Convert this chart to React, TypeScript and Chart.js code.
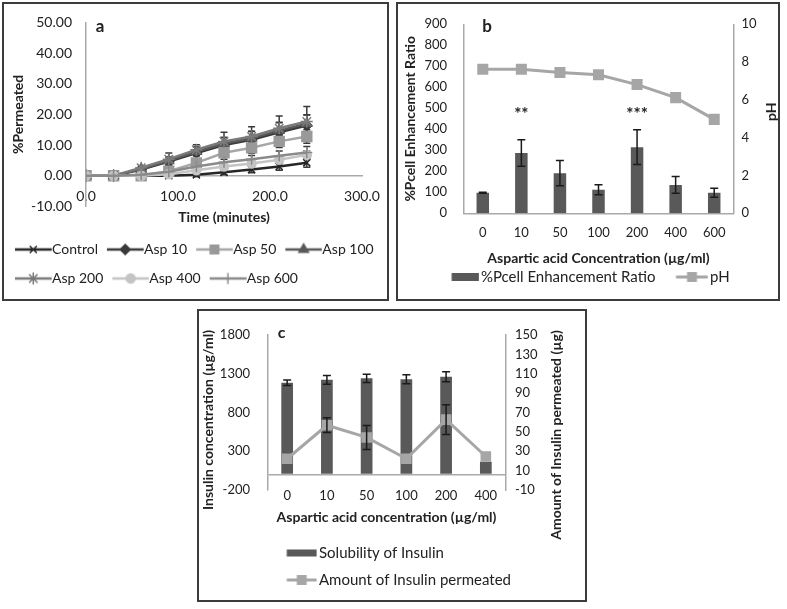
import React, { useEffect, useRef } from 'react';
import { Chart, registerables } from 'chart.js';
import { drawPoint } from 'chart.js/helpers';

Chart.register(...registerables);

const FONT = 'Lato, "Open Sans", sans-serif';
const TXT = '#222222';
const AXIS = '#a9a9a9';

// ---------- Panel a data ----------
const timeMin = [0, 30, 60, 90, 120, 150, 180, 210, 240];
const seriesNames = ['Control', 'Asp 10', 'Asp 50', 'Asp 100', 'Asp 200', 'Asp 400', 'Asp 600'];
const control = [0, 0, 0, 0, 0.3, 1.1, 2.0, 3.0, 4.2];
const asp10 = [0, 0, 2.0, 4.6, 7.4, 10.0, 11.7, 14.2, 16.4];
const asp50 = [0, 0, 0, 1.5, 4.2, 7.5, 9.1, 11.2, 12.8];
const asp100 = [0, 0, 2.2, 4.9, 7.9, 10.5, 12.2, 14.8, 17.0];
const asp200 = [0, 0, 2.6, 5.4, 8.5, 11.2, 12.8, 15.5, 17.7];
const asp400 = [0, 0, 0, 0.5, 1.8, 3.0, 4.0, 5.2, 6.8];
const asp600 = [0, 0, 0.3, 1.3, 3.0, 4.4, 5.4, 6.5, 7.6];
const errControl = [0, 0, 0, 0.3, 0.6, 0.8, 1.0, 1.2, 1.4];
const err10 = [0, 0, 0.5, 1.5, 2.0, 2.5, 2.8, 3.2, 3.5];
const err50 = [0, 0, 0.3, 0.8, 1.2, 1.5, 1.8, 2.0, 2.2];
const err100 = [0, 0, 0.5, 1.2, 1.5, 2.0, 2.2, 2.5, 2.8];
const err200 = [0, 0, 0.5, 2.0, 1.6, 3.0, 3.2, 4.0, 4.9];
const err400 = [0, 0, 0, 0.3, 0.5, 0.7, 0.9, 1.1, 1.3];
const err600 = [0, 0, 0.2, 0.5, 0.8, 1.0, 1.2, 1.6, 1.9];
const seriesValues = [control, asp10, asp50, asp100, asp200, asp400, asp600];
const seriesErrors = [errControl, err10, err50, err100, err200, err400, err600];
// styles for panel a series
const lineColors = ['#262626', '#3a3a3a', '#a6a6a6', '#595959', '#7a7a7a', '#c4c4c4', '#8a8a8a'];
const markerFill = ['#262626', '#3a3a3a', '#999999', '#595959', '#7a7a7a', '#c4c4c4', '#8a8a8a'];
const markerStyles = ['crossRot', 'rectRot', 'rect', 'triangle', 'star', 'circle', 'cross'];
const markerRadius = [5, 5, 7, 5.5, 6, 4.5, 5.5];

// ---------- Panel b data ----------
const concB = ['0', '10', '50', '100', '200', '400', '600'];
const pcell = [98, 287, 191, 112, 315, 135, 98];
const pcellErr = [2, 63, 60, 24, 83, 40, 21];
const phValues = [7.62, 7.62, 7.45, 7.33, 6.81, 6.12, 4.97];
const sigMarks = ['', '**', '', '', '***', '', ''];
const sigLevel = 470;

// ---------- Panel c data ----------
const concC = ['0', '10', '50', '100', '200', '400'];
const solubility = [1185, 1222, 1242, 1230, 1263, 165];
const solubilityErr = [36, 57, 53, 57, 65, 0];
const permeated = [22.3, 56.9, 44.3, 22.3, 62.7, 24.6];
const permeatedErr = [0, 7.6, 12.4, 0, 15.3, 0];

const BAR = '#595959';
const LINE = '#a6a6a6';

function font(size: number, bold = false): any {
  return { family: FONT, size, weight: bold ? 'bold' : 'normal' };
}

function makeImg(w: number, h: number, draw: (ctx: CanvasRenderingContext2D) => void) {
  const c = document.createElement('canvas');
  c.width = w;
  c.height = h;
  const ctx = c.getContext('2d')!;
  draw(ctx);
  return c;
}

function lineMarkerImg(w: number, h: number, x0: number, x1: number, color: string, lw: number,
  style: string, radius: number, fill: string, bw: number, cx: number) {
  return makeImg(w, h, (ctx) => {
    ctx.strokeStyle = color;
    ctx.lineWidth = lw;
    ctx.beginPath();
    ctx.moveTo(x0, h / 2);
    ctx.lineTo(x1, h / 2);
    ctx.stroke();
    ctx.fillStyle = fill;
    ctx.strokeStyle = fill;
    ctx.lineWidth = bw;
    drawPoint(ctx, { pointStyle: style as any, radius, borderWidth: bw, rotation: 0 } as any, cx, h / 2);
  });
}

function rectImg(w: number, h: number, x0: number, x1: number, rh: number, color: string) {
  return makeImg(w, h, (ctx) => {
    ctx.fillStyle = color;
    ctx.fillRect(x0, (h - rh) / 2, x1 - x0, rh);
  });
}

const errorBarPlugin: any = {
  id: 'errorBars',
  beforeDatasetsDraw(chart: any, _a: any, opts: any) {
    if (opts.before) drawErrors(chart, opts);
  },
  afterDatasetsDraw(chart: any, _a: any, opts: any) {
    if (!opts.before) drawErrors(chart, opts);
  },
};

function drawErrors(chart: any, opts: any) {
  const ctx = chart.ctx;
  chart.data.datasets.forEach((ds: any, i: number) => {
    const errs = ds.errorBars;
    if (!errs) return;
    const meta = chart.getDatasetMeta(i);
    const ys = chart.scales[meta.yAxisID];
    ctx.save();
    ctx.strokeStyle = opts.color;
    ctx.lineWidth = opts.width;
    meta.data.forEach((el: any, j: number) => {
      const e = errs[j];
      if (!e) return;
      const raw = ds.data[j];
      const v = typeof raw === 'number' ? raw : raw.y;
      const x = el.x;
      const yt = ys.getPixelForValue(v + e);
      const yb = ys.getPixelForValue(v - e);
      const c = opts.cap / 2;
      ctx.beginPath();
      ctx.moveTo(x, yt);
      ctx.lineTo(x, yb);
      ctx.moveTo(x - c, yt);
      ctx.lineTo(x + c, yt);
      ctx.moveTo(x - c, yb);
      ctx.lineTo(x + c, yb);
      ctx.stroke();
    });
    ctx.restore();
  });
}

const sigPlugin: any = {
  id: 'sigMarks',
  afterDatasetsDraw(chart: any, _a: any, opts: any) {
    if (!opts.labels) return;
    const ctx = chart.ctx;
    const meta = chart.getDatasetMeta(0);
    const ys = chart.scales.y;
    ctx.save();
    ctx.fillStyle = TXT;
    ctx.font = `bold 17px ${FONT}`;
    ctx.textAlign = 'center';
    ctx.textBaseline = 'middle';
    opts.labels.forEach((t: string, i: number) => {
      if (!t) return;
      ctx.fillText(t, meta.data[i].x, ys.getPixelForValue(opts.level));
    });
    ctx.restore();
  },
};

const vTitlePlugin: any = {
  id: 'vTitles',
  afterDraw(chart: any, _a: any, opts: any) {
    const ctx = chart.ctx;
    (opts.items || []).forEach((it: any) => {
      ctx.save();
      ctx.translate(it.x, it.y);
      ctx.rotate(-Math.PI / 2);
      ctx.font = `bold ${it.size}px ${FONT}`;
      ctx.fillStyle = TXT;
      ctx.textAlign = 'center';
      ctx.textBaseline = 'middle';
      ctx.fillText(it.text, 0, 0);
      ctx.restore();
    });
  },
};

function legendLabels(imgs: any[]) {
  return (chart: any) => chart.data.datasets.map((ds: any, i: number) => ({
    text: ds.label, pointStyle: imgs[i], fillStyle: 'transparent', strokeStyle: 'transparent',
    lineWidth: 0, hidden: false, datasetIndex: i, fontColor: TXT,
  }));
}

function configA(): any {
  const imgs = seriesNames.map((_, i) =>
    lineMarkerImg(38, 16, 1, 37.7, lineColors[i], 2.5, markerStyles[i], Math.min(markerRadius[i], 6), markerFill[i], 1.5, 19.3));
  const datasets = seriesNames.map((name, i) => ({
    type: 'line',
    label: name,
    data: timeMin.map((t, j) => ({ x: t, y: seriesValues[i][j] })),
    borderColor: lineColors[i],
    backgroundColor: markerFill[i],
    borderWidth: 2.5,
    pointStyle: markerStyles[i],
    pointRadius: markerRadius[i],
    pointBackgroundColor: markerFill[i],
    pointBorderColor: markerFill[i],
    pointBorderWidth: 1.5,
    errorBars: seriesErrors[i],
    order: seriesNames.length - i,
  }));
  return {
    type: 'line',
    data: { datasets },
    options: {
      animation: false,
      responsive: false,
      devicePixelRatio: 1,
      layout: { padding: { left: 6, right: 0, top: 22, bottom: 4.5 } },
      scales: {
        x: {
          type: 'linear', min: 0, max: 300, position: { y: 0 },
          grid: { display: false, drawTicks: false },
          border: { display: true, color: AXIS, width: 1.5 },
          ticks: { stepSize: 100, padding: 12, color: TXT, font: font(14), callback: (v: any) => Number(v).toFixed(1) },
          title: { display: true, text: 'Time (minutes)', color: TXT, font: font(14, true), padding: { top: -7.2, bottom: 0 } },
        },
        y: {
          type: 'linear', min: -10, max: 50, position: 'left',
          afterFit: (s: any) => { s.width = 80; },
          grid: { display: false, drawTicks: false },
          border: { display: true, color: AXIS, width: 1.5 },
          ticks: { stepSize: 10, padding: 14, color: TXT, font: font(14), callback: (v: any) => Number(v).toFixed(2) },
          title: { display: true, text: '%Permeated', color: TXT, font: font(14, true), padding: { top: 3.6, bottom: 0 } },
        },
        pad: {
          type: 'linear', position: 'right', display: true,
          afterFit: (s: any) => { s.width = 58; },
          grid: { display: false, drawTicks: false },
          border: { display: false },
          ticks: { display: false },
        },
      },
      plugins: {
        tooltip: { enabled: false },
        legend: {
          position: 'bottom', align: 'start',
          title: { display: true, text: '', font: { size: 10, lineHeight: 1 }, padding: { top: 11.1, bottom: 0 } },
          labels: {
            usePointStyle: true, pointStyleWidth: 24, padding: 15, color: TXT, font: font(14),
            generateLabels: legendLabels(imgs),
          },
        },
        errorBars: { before: true, color: '#3a3a3a', width: 1.5, cap: 7 },
      },
    },
    plugins: [errorBarPlugin],
  };
}

function configB(): any {
  const imgs = [
    rectImg(44, 16, 16.2, 43.8, 8, BAR),
    lineMarkerImg(44, 16, 11.5, 43.5, LINE, 3, 'rect', 7, LINE, 0, 27.5),
  ];
  return {
    type: 'bar',
    data: {
      labels: concB,
      datasets: [
        { type: 'bar', label: '%Pcell Enhancement Ratio', data: pcell, backgroundColor: BAR, yAxisID: 'y',
          categoryPercentage: 1, barPercentage: 0.324, errorBars: pcellErr, order: 1 },
        { type: 'line', label: 'pH', data: phValues, borderColor: LINE, backgroundColor: LINE, borderWidth: 3,
          pointStyle: 'rect', pointRadius: 7.8, pointBackgroundColor: LINE, pointBorderColor: LINE, pointBorderWidth: 0,
          yAxisID: 'y2', order: 0 },
      ],
    },
    options: {
      animation: false,
      responsive: false,
      devicePixelRatio: 1,
      layout: { padding: { left: 0, right: 13, top: 20, bottom: 5.5 } },
      scales: {
        x: {
          grid: { display: false, drawTicks: false },
          border: { display: true, color: AXIS, width: 1.5 },
          ticks: { padding: 11.9, color: TXT, font: font(13) },
          title: { display: true, text: 'Aspartic acid Concentration (µg/ml)', color: TXT, font: font(14, true), padding: { top: -3.1, bottom: -11.9 } },
        },
        y: {
          min: 0, max: 900, position: 'left',
          afterFit: (s: any) => { s.width = 66.5; },
          grid: { display: false, drawTicks: false },
          border: { display: true, color: AXIS, width: 1.5 },
          ticks: { stepSize: 100, padding: 16.5, color: TXT, font: font(13) },
          title: { display: true, text: '%Pcell Enhancement Ratio', color: TXT, font: font(14, true), padding: { top: 4.6, bottom: 0 } },
        },
        y2: {
          min: 0, max: 10, position: 'right',
          afterFit: (s: any) => { s.width = 40.5; },
          grid: { display: false, drawTicks: false },
          border: { display: true, color: AXIS, width: 1.5 },
          ticks: { stepSize: 2, padding: 8, color: TXT, font: font(13) },
        },
      },
      plugins: {
        tooltip: { enabled: false },
        legend: {
          position: 'bottom', align: 'center',
          labels: {
            usePointStyle: true, pointStyleWidth: 32, padding: 15, color: TXT, font: font(15),
            generateLabels: legendLabels(imgs),
          },
        },
        errorBars: { before: false, color: '#1a1a1a', width: 1.5, cap: 8 },
        sigMarks: { labels: sigMarks, level: sigLevel },
        vTitles: { items: [{ text: 'pH', x: 374.5, y: 111.7, size: 14 }] },
      },
    },
    plugins: [errorBarPlugin, sigPlugin, vTitlePlugin],
  };
}

function configC(): any {
  const imgs = [
    rectImg(114, 16, 83.5, 113.5, 7, BAR),
    lineMarkerImg(114, 16, 83.5, 113.5, LINE, 3, 'rect', 7, LINE, 0, 98.5),
  ];
  return {
    type: 'bar',
    data: {
      labels: concC,
      datasets: [
        { type: 'bar', label: 'Solubility of Insulin', data: solubility, backgroundColor: BAR, yAxisID: 'y',
          categoryPercentage: 1, barPercentage: 0.295, errorBars: solubilityErr, order: 1 },
        { type: 'line', label: 'Amount of Insulin permeated', data: permeated, borderColor: LINE, backgroundColor: LINE,
          borderWidth: 3, pointStyle: 'rect', pointRadius: 7.5, pointBackgroundColor: LINE, pointBorderColor: LINE,
          pointBorderWidth: 0, yAxisID: 'y2', errorBars: permeatedErr, order: 0 },
      ],
    },
    options: {
      animation: false,
      responsive: false,
      devicePixelRatio: 1,
      layout: { padding: { left: 0, right: 0, top: 15, bottom: 7.5 } },
      scales: {
        x: {
          grid: { display: false, drawTicks: false },
          border: { display: false },
          ticks: { padding: -2.1, color: TXT, font: font(13) },
          title: { display: true, text: 'Aspartic acid concentration (µg/ml)', color: TXT, font: font(14, true), padding: { top: 7.9, bottom: 7.4 } },
        },
        y: {
          min: -200, max: 1800, position: 'left',
          afterFit: (s: any) => { s.width = 70.3; },
          afterBuildTicks: (s: any) => {
            if (!s.ticks.some((t: any) => t.value === 0)) {
              s.ticks.push({ value: 0 });
              s.ticks.sort((a: any, b: any) => a.value - b.value);
            }
          },
          grid: {
            display: true, drawTicks: false, lineWidth: 1.5,
            color: (c: any) => (c.tick && c.tick.value === 0 ? AXIS : 'rgba(0,0,0,0)'),
          },
          border: { display: true, color: AXIS, width: 1.5 },
          ticks: { stepSize: 500, padding: 17.3, color: TXT, font: font(13), callback: (v: any) => (Number(v) === 0 ? '' : String(v)) },
        },
        y2: {
          min: -10, max: 150, position: 'right',
          afterFit: (s: any) => { s.width = 81.3; },
          grid: { display: false, drawTicks: false },
          border: { display: true, color: AXIS, width: 1.5 },
          ticks: { stepSize: 20, padding: 9.3, color: TXT, font: font(13) },
        },
      },
      plugins: {
        tooltip: { enabled: false },
        legend: {
          position: 'bottom', align: 'start',
          labels: {
            usePointStyle: true, pointStyleWidth: 102.5, padding: 12, color: TXT, font: font(15),
            generateLabels: legendLabels(imgs),
          },
        },
        errorBars: { before: false, color: '#1a1a1a', width: 1.5, cap: 8 },
        vTitles: {
          items: [
            { text: 'Insulin concentration (µg/ml)', x: 11.3, y: 110, size: 14 },
            { text: 'Amount of Insulin permeated (µg)', x: 359.7, y: 125, size: 14 },
          ],
        },
      },
    },
    plugins: [errorBarPlugin, vTitlePlugin],
  };
}

const boxStyle = (left: number, top: number, w: number, h: number): React.CSSProperties => ({
  position: 'absolute', left, top, width: w, height: h, boxSizing: 'border-box',
  border: '2px solid #3c3c3c', pointerEvents: 'none',
});

const panelLabel = (x: number, y: number, size: number): React.CSSProperties => ({
  position: 'absolute', left: x, top: y, transform: 'translate(-50%, -50%)', fontFamily: FONT,
  fontWeight: 'bold', fontSize: size, lineHeight: 1, color: TXT,
});

export default function App() {
  const aRef = useRef<HTMLCanvasElement>(null);
  const bRef = useRef<HTMLCanvasElement>(null);
  const cRef = useRef<HTMLCanvasElement>(null);

  useEffect(() => {
    const charts = [
      new Chart(aRef.current as HTMLCanvasElement, configA()),
      new Chart(bRef.current as HTMLCanvasElement, configB()),
      new Chart(cRef.current as HTMLCanvasElement, configC()),
    ];
    return () => charts.forEach((c) => c.destroy());
  }, []);

  return (
    <div style={{ position: 'fixed', left: 0, top: 0, width: 787, height: 609, background: '#ffffff', overflow: 'hidden' }}>
      <canvas ref={aRef} width={420} height={300} style={{ position: 'absolute', left: 0, top: 0 }} />
      <canvas ref={bRef} width={390} height={300} style={{ position: 'absolute', left: 397, top: 0 }} />
      <canvas ref={cRef} width={390} height={295} style={{ position: 'absolute', left: 197, top: 310 }} />
      <div style={boxStyle(2, 2, 387, 299)} />
      <div style={boxStyle(396, 2, 384, 299)} />
      <div style={boxStyle(197, 309, 390, 293)} />
      <div style={panelLabel(100, 25, 17)}>a</div>
      <div style={panelLabel(487, 25, 17)}>b</div>
      <div style={panelLabel(281.5, 331.7, 16)}>c</div>
    </div>
  );
}
